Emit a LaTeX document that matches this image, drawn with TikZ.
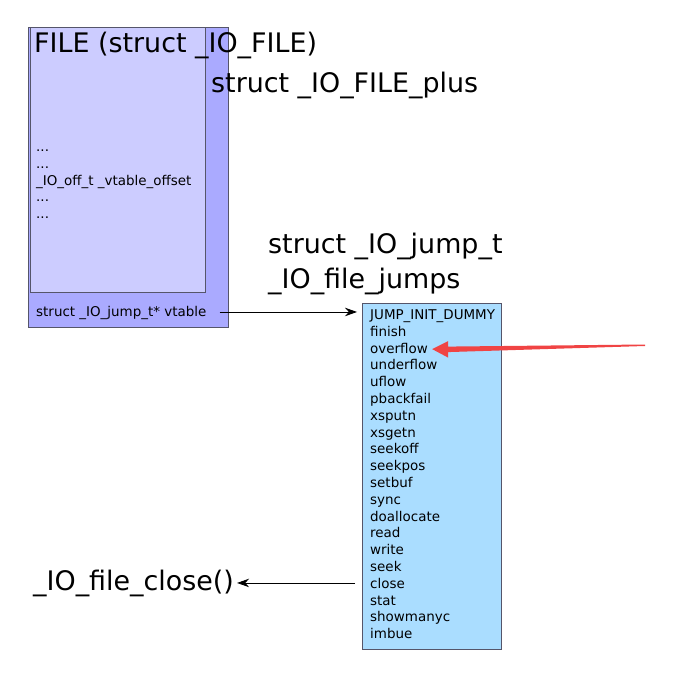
\documentclass[tikz,border=0pt]{standalone}
\usepackage{fontspec}
\setmainfont{DejaVu Sans}
\usetikzlibrary{arrows.meta,calc}

\definecolor{plusblue}{HTML}{AAAAFF}
\definecolor{fileblue}{HTML}{CCCCFF}
\definecolor{jumpblue}{HTML}{AADDFF}
\definecolor{boxline}{HTML}{55556A}
\definecolor{hot}{HTML}{F04444}

\begin{document}
\begin{tikzpicture}[x=1pt, y=-1pt,
    big/.style={inner sep=0, anchor=base west, font=\fontsize{26.9}{32}\selectfont},
    small/.style={inner xsep=2pt, inner ysep=0, anchor=base west, font=\fontsize{13.45}{16}\selectfont},
    box/.style={draw=boxline, line width=0.8pt, anchor=north west, inner sep=0},
    ptr/.style={-{Stealth[length=12pt,width=8.5pt]}, line width=0.8pt}]

        \useasboundingbox (0,0) rectangle (700,684);

        % boxes
        \node[box, fill=plusblue, minimum width=200pt, minimum height=300pt] (plus) at (28,27) {};
        \node[box, fill=fileblue, minimum width=175pt, minimum height=265pt] (file) at (30,27) {};
        \node[box, fill=jumpblue, minimum width=139pt, minimum height=346pt] (jumps) at (362,303) {};

        % titles
        \node[big] (filelbl) at (34,53) {FILE (struct \_IO\_FILE)};
        \node[big] (pluslbl) at (211,93) {struct \_IO\_FILE\_plus};
        \node[big] (jtype) at (268,254) {struct \_IO\_jump\_t};
        \node[big] (jname) at (268,288) {\_IO\_file\_jumps};
        \node[big] (fclose) at (33,590) {\_IO\_file\_close()};

        % fields of FILE
        \node[small] (f1) at (34,151.7) {...};
        \node[small] (f2) at (34,168.4) {...};
        \node[small] (f3) at (34,185.1) {\_IO\_off\_t \_vtable\_offset};
        \node[small] (f4) at (34,201.8) {...};
        \node[small] (f5) at (34,218.5) {...};
        \node[small] (vt) at (34,316) {struct \_IO\_jump\_t* vtable};

        % jump table entries
        \foreach \fn [count=\i] in {JUMP\_INIT\_DUMMY, finish, overflow, underflow, uflow,
            pbackfail, xsputn, xsgetn, seekoff, seekpos, setbuf, sync, doallocate,
            read, write, seek, close, stat, showmanyc, imbue}
            \node[small] (j\i) at (368,{319.5+16.8*(\i-1)}) {\fn};

        \draw[ptr] ($(vt.east)+(11,-0.5)$) -- ($(jumps.west |- vt.east)+(-5,-0.5)$);
        \draw[ptr] ($(jumps.west |- fclose.east)+(-7,0)$) -- ($(fclose.east)+(3,0)$);

        % red hint arrow
        \coordinate (hint) at (645,344.5);
        \fill[hot] (hint) -- ($(j3.east)+(18,-1.5)$) -- ($(j3.east)+(18,-7)$) -- ($(j3.east)+(2,1)$)
            -- ($(j3.east)+(18,9.5)$) -- ($(j3.east)+(18,4)$) -- ($(hint)+(0,1.5)$) -- cycle;
    \end{tikzpicture}
\end{document}
